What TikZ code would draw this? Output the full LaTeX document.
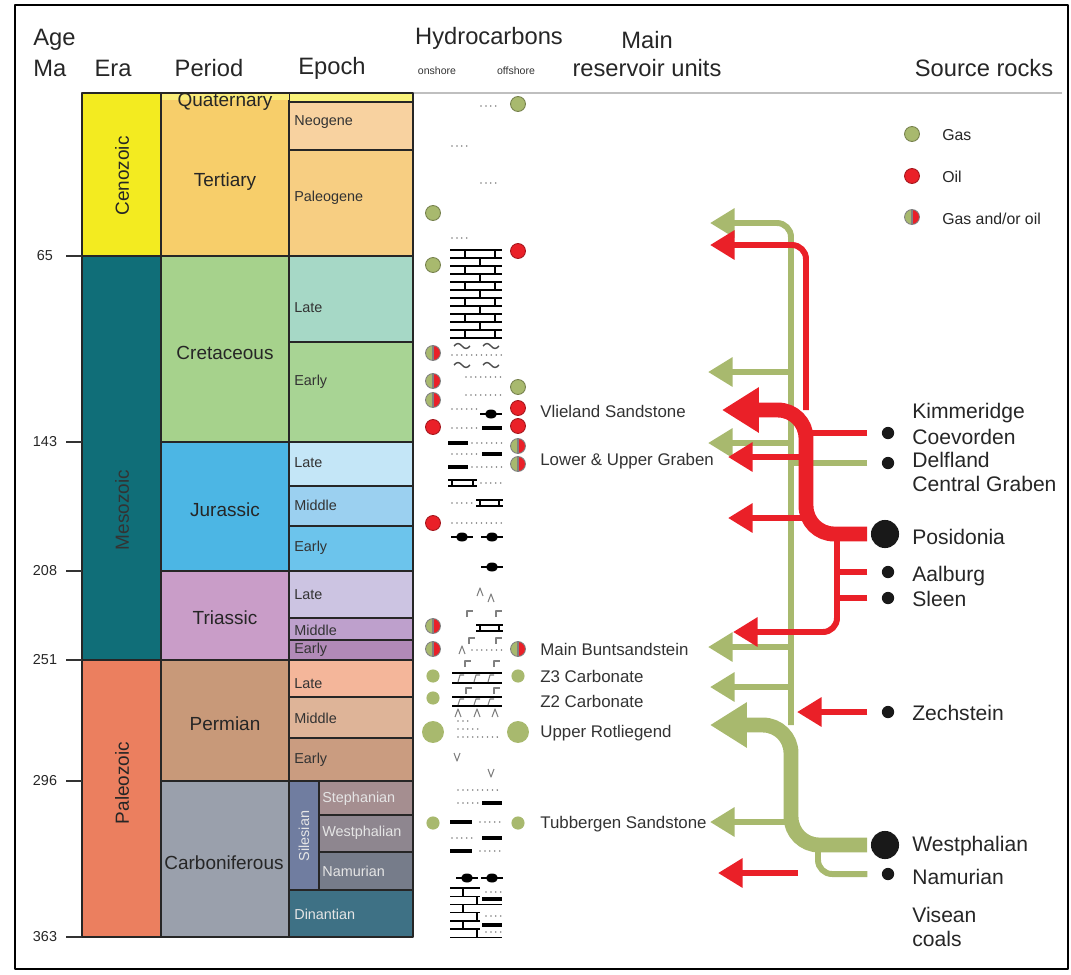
\documentclass[tikz,border=0pt]{standalone}
\usepackage{fontspec}
\setmainfont{Liberation Sans}
\usetikzlibrary{arrows.meta}

\definecolor{cGas}{RGB}{168,185,110}
\definecolor{cOil}{RGB}{234,32,40}
\definecolor{cCenoz}{RGB}{243,235,32}
\definecolor{cMesoz}{RGB}{16,110,120}
\definecolor{cPaleoz}{RGB}{235,127,95}
\definecolor{cTert}{RGB}{247,206,106}
\definecolor{cQuatP}{RGB}{249,236,120}
\definecolor{cQuat}{RGB}{249,242,122}
\definecolor{cNeog}{RGB}{248,210,160}
\definecolor{cPaleog}{RGB}{247,206,130}
\definecolor{cCret}{RGB}{166,210,140}
\definecolor{cLCret}{RGB}{166,216,198}
\definecolor{cECret}{RGB}{168,212,148}
\definecolor{cJura}{RGB}{76,182,228}
\definecolor{cLJura}{RGB}{196,230,247}
\definecolor{cMJura}{RGB}{155,208,240}
\definecolor{cEJura}{RGB}{108,196,236}
\definecolor{cTrias}{RGB}{201,157,200}
\definecolor{cLTrias}{RGB}{204,196,226}
\definecolor{cMTrias}{RGB}{190,160,204}
\definecolor{cETrias}{RGB}{178,138,184}
\definecolor{cPerm}{RGB}{200,153,121}
\definecolor{cLPerm}{RGB}{244,182,154}
\definecolor{cMPerm}{RGB}{222,180,152}
\definecolor{cEPerm}{RGB}{202,156,128}
\definecolor{cCarb}{RGB}{154,160,172}
\definecolor{cSiles}{RGB}{112,125,160}
\definecolor{cSteph}{RGB}{165,142,144}
\definecolor{cWestph}{RGB}{142,134,143}
\definecolor{cNamur}{RGB}{118,124,138}
\definecolor{cDinant}{RGB}{62,113,133}

\newcommand{\lithdots}[3]{\draw[gray,line width=1pt,line cap=round,dash pattern=on 0pt off 2.8pt] (#1,#3) -- (#2,#3);}
\newcommand{\lithbar}[3]{\draw[line width=2.4pt] (#1,#3) -- (#2,#3);}
\newcommand{\lithlens}[2]{\fill (#1,#2) ellipse (6 and 4.5); \draw[line width=1.6pt] ({#1-11},#2) -- ({#1+11},#2);}
\newcommand{\lithladder}[3]{\draw[line width=0.8pt] (#1,{#3-3}) -- (#2,{#3-3}) (#1,{#3+3}) -- (#2,{#3+3})
  ({#1+4},{#3-3}) -- ({#1+4},{#3+3}) ({#2-4},{#3-3}) -- ({#2-4},{#3+3});}
\newcommand{\lithcaret}[2]{\draw[gray,line width=0.6pt] ({#1-3},{#2+4}) -- (#1,{#2-4}) -- ({#1+3},{#2+4});}
\newcommand{\lithcorner}[2]{\draw[gray,line width=0.6pt] (#1,{#2+4}) -- (#1,{#2-2}) -- ({#1+6},{#2-2});}
\newcommand{\lithvee}[2]{\draw[gray,line width=0.6pt] ({#1-3},{#2-4}) -- (#1,{#2+4}) -- ({#1+3},{#2-4});}
\newcommand{\lithwave}[2]{\draw[black!70,line width=0.8pt] ({#1-8},#2) sin ({#1-4},{#2-2.5}) cos (#1,#2) sin ({#1+4},{#2+2.5}) cos ({#1+8},#2);}
\newcommand{\lithsalt}[2]{\draw[line width=0.8pt] (452,#1) -- (502,#1) (452,#2) -- (502,#2);
  \foreach \m in {458,474,488} \draw[gray,line width=0.6pt] (\m,{#2-1}) -- ({\m+2},{#1+2}) -- ({\m+6},{#1+2});}

\begin{document}
\begin{tikzpicture}[x=0.02cm,y=-0.02cm,line join=round,
  cell/.style={draw=black!85,line width=0.6pt},
  hdr/.style={font=\fontsize{13.5}{15}\selectfont,text=black!85,inner sep=0pt},
  sub/.style={font=\fontsize{6}{7}\selectfont,text=black!80,inner sep=0pt},
  per/.style={font=\fontsize{10.8}{12}\selectfont,text=black!85,inner sep=0pt},
  epo/.style={font=\fontsize{8.2}{9}\selectfont,text=black!80,inner sep=0pt,anchor=west},
  age/.style={font=\fontsize{8.2}{9}\selectfont,text=black!85,inner sep=0pt},
  res/.style={font=\fontsize{9.6}{11}\selectfont,text=black!80,inner sep=0pt,anchor=west},
  src/.style={font=\fontsize{12}{13}\selectfont,text=black!85,inner sep=0pt,anchor=west},
  leg/.style={font=\fontsize{9}{10}\selectfont,text=black!85,inner sep=0pt,anchor=west},
  gas/.style={circle,inner sep=0pt,minimum size=8.5pt,fill=cGas,draw=cGas!70!black,line width=0.5pt},
  oil/.style={circle,inner sep=0pt,minimum size=8.5pt,fill=cOil,draw=cOil!70!black,line width=0.5pt},
  gassm/.style={circle,inner sep=0pt,minimum size=7.5pt,fill=cGas},
  gasbig/.style={circle,inner sep=0pt,minimum size=12.5pt,fill=cGas},
  mix/.style={circle,inner sep=0pt,minimum size=8.5pt,draw=black!50,line width=0.5pt,
    path picture={\fill[cGas] (path picture bounding box.south west) rectangle (path picture bounding box.north);
      \fill[cOil] (path picture bounding box.south) rectangle (path picture bounding box.north east);
      \draw[line width=0.8pt] (path picture bounding box.south) -- (path picture bounding box.north);}},
  srcdot/.style={circle,inner sep=0pt,minimum size=7pt,fill=black!90},
  srcbig/.style={circle,inner sep=0pt,minimum size=16pt,fill=black!90},
  gline/.style={draw=cGas,line width=3.4pt},
  rline/.style={draw=cOil,line width=3.4pt},
  gflow/.style={gline,-{Triangle[length=14pt,width=16pt]}},
  rflow/.style={rline,-{Triangle[length=14pt,width=16pt]}},
  gthick/.style={draw=cGas,line width=8.5pt,-{Triangle[length=21pt,width=24.5pt]}},
  rthick/.style={draw=cOil,line width=8.5pt,-{Triangle[length=21pt,width=24.5pt]}}]
  \useasboundingbox (0,0) rectangle (1071,974);
  \draw[line width=1.2pt] (15,5) rectangle (1068,969);
  \draw[black!25,line width=0.6pt] (413,93) -- (1062,93);

  \node[hdr,anchor=west] (hage) at (33,40) {Age};
  \node[hdr,anchor=west] (hma) at (33,68) {Ma};
  \node[hdr] (hera) at (113,68) {Era};
  \node[hdr] (hper) at (209,68) {Period};
  \node[hdr] (hepo) at (332,68) {Epoch};
  \node[hdr] (hhc) at (489,38) {Hydrocarbons};
  \node[sub] (hon) at (437,71) {onshore};
  \node[sub] (hoff) at (516,71) {offshore};
  \node[hdr] (hmain) at (647,40) {Main};
  \node[hdr] (hres) at (647,68) {reservoir units};
  \node[hdr] (hsrc) at (984,68) {Source rocks};

  \foreach \xa/\ya/\xb/\yb/\c in {82/93/161/256/cCenoz,82/256/161/660/cMesoz,82/660/161/937/cPaleoz,
    161/93/289/256/cTert,161/256/289/442/cCret,161/442/289/571/cJura,161/571/289/660/cTrias,
    161/660/289/781/cPerm,161/781/289/937/cCarb,
    289/93/413/102/cQuat,289/102/413/150/cNeog,289/150/413/256/cPaleog,289/256/413/342/cLCret,
    289/342/413/442/cECret,289/442/413/486/cLJura,289/486/413/526/cMJura,289/526/413/571/cEJura,
    289/571/413/618/cLTrias,289/618/413/640/cMTrias,289/640/413/660/cETrias,289/660/413/697/cLPerm,
    289/697/413/738/cMPerm,289/738/413/781/cEPerm,289/781/319/890/cSiles,319/781/413/815/cSteph,
    319/815/413/852/cWestph,319/852/413/890/cNamur,289/890/413/937/cDinant}
    \filldraw[cell,fill=\c] (\xa,\ya) rectangle (\xb,\yb);
  \fill[cQuatP] (161.5,93.5) rectangle (288.5,100);

  \foreach \y/\a in {256/65,442/143,571/208,660/251,781/296,937/363} {
    \draw[black!80,line width=0.6pt] (66,\y) -- (82,\y);
    \node[age] (age\a) at (45,\y) {\a};
  }

  \node[per,rotate=90] (cenoz) at (122,176) {Cenozoic};
  \node[per,rotate=90,text=black!80] (mesoz) at (122,510) {Mesozoic};
  \node[per,rotate=90] (paleoz) at (122,783) {Paleozoic};
  \node[per] (quat) at (225,102) {Quaternary};
  \node[per] (tert) at (225,182) {Tertiary};
  \node[per] (cret) at (225,353) {Cretaceous};
  \node[per] (jura) at (225,510) {Jurassic};
  \node[per] (trias) at (225,618) {Triassic};
  \node[per] (perm) at (225,724) {Permian};
  \node[per] (carb) at (224,863) {Carboniferous};

  \foreach \y/\t [count=\i] in {122/Neogene,198/Paleogene,308/Late,382/Early,463/Late,505/Middle,548/Early,
    595/Late,630/Middle,650/Early,684/Late,718/Middle,760/Early}
    \node[epo] (epo\i) at (294,\y) {\t};
  \node[epo,text=black!10] (steph) at (322,799) {Stephanian};
  \node[epo,text=black!10] (westph) at (322,833) {Westphalian};
  \node[epo,text=black!10] (namur) at (322,871) {Namurian};
  \node[epo,text=black!10] (dinant) at (294,914) {Dinantian};
  \node[epo,anchor=center,rotate=90,text=black!10] (siles) at (304,836) {Silesian};

  \lithdots{481}{497}{106}
  \lithdots{452}{468}{146}
  \lithdots{481}{497}{183}
  \lithdots{452}{468}{238}
  \foreach \i in {0,...,11}
    \draw[line width=0.8pt] (450,{250+8*\i}) -- (502,{250+8*\i});
  \foreach \i in {0,2,...,10}
    \draw[line width=0.8pt] (465,{250+8*\i}) -- (465,{258+8*\i}) (495,{250+8*\i}) -- (495,{258+8*\i});
  \foreach \i in {1,3,...,9}
    \draw[line width=0.8pt] (480,{250+8*\i}) -- (480,{258+8*\i});
  \lithwave{462}{346} \lithwave{491}{346}
  \lithdots{452}{502}{355}
  \lithwave{462}{365} \lithwave{491}{365}
  \lithdots{466}{502}{377}
  \lithdots{466}{502}{395}
  \lithdots{452}{480}{409} \lithlens{491}{414}
  \lithdots{452}{478}{428} \lithbar{482}{502}{428}
  \lithbar{448}{468}{443} \lithdots{472}{502}{443}
  \lithdots{452}{478}{454} \lithbar{482}{502}{454}
  \lithbar{448}{468}{467} \lithdots{472}{502}{467}
  \lithladder{448}{477}{483} \lithdots{481}{502}{483}
  \lithdots{452}{474}{503} \lithladder{476}{503}{503}
  \lithdots{452}{502}{523}
  \lithlens{462}{537} \lithlens{492}{537}
  \lithlens{492}{567}
  \lithcaret{480}{592} \lithcaret{491}{598}
  \lithcorner{467}{613} \lithcorner{496}{613}
  \lithladder{476}{503}{628}
  \lithcorner{469}{640} \lithcorner{496}{640}
  \lithcaret{462}{650} \lithdots{472}{502}{650}
  \lithcorner{465}{663} \lithcorner{494}{663}
  \lithsalt{673}{683}
  \lithcorner{466}{690} \lithcorner{494}{690}
  \lithsalt{697}{706}
  \lithcaret{458}{713} \lithcaret{477}{713} \lithcaret{495}{713}
  \lithdots{458}{468}{721}
  \lithdots{458}{480}{729}
  \lithdots{458}{502}{737}
  \lithvee{457}{757} \lithvee{491}{773}
  \lithdots{458}{502}{790}
  \lithdots{458}{478}{803} \lithbar{482}{502}{803}
  \lithbar{450}{472}{822} \lithdots{480}{502}{822}
  \lithdots{452}{476}{838} \lithbar{482}{502}{838}
  \lithbar{450}{472}{851} \lithdots{480}{502}{851}
  \lithlens{467}{878} \lithlens{492}{878}
  \foreach \i in {0,...,6}
    \draw[line width=0.8pt] (450,{888+8.2*\i}) -- (480,{888+8.2*\i});
  \draw[line width=0.8pt] (480,904.4) -- (502,904.4) (480,937.2) -- (502,937.2);
  \foreach \i in {0,2,4}
    \draw[line width=0.8pt] (463,{888+8.2*\i}) -- (463,{896.2+8.2*\i});
  \foreach \i in {1,3,5}
    \draw[line width=0.8pt] (477,{888+8.2*\i}) -- (477,{896.2+8.2*\i});
  \lithdots{486}{502}{892} \lithbar{482}{502}{899}
  \lithdots{486}{502}{916} \lithbar{482}{502}{925} \lithdots{486}{502}{932}

  \foreach \x/\y [count=\i] in {518/104,433/213,433/265,518/387}
    \node[gas] (gas\i) at (\x,\y) {};
  \foreach \x/\y [count=\i] in {518/251,518/408,433/427,518/426,433/523}
    \node[oil] (oil\i) at (\x,\y) {};
  \foreach \x/\y [count=\i] in {433/353,433/381,433/400,518/446,518/464,433/626,433/649,518/649}
    \node[mix] (mix\i) at (\x,\y) {};
  \foreach \x/\y [count=\i] in {433/676,518/676,433/698,433/823,518/823}
    \node[gassm] (gsm\i) at (\x,\y) {};
  \node[gasbig] (gbig1) at (433,732) {};
  \node[gasbig] (gbig2) at (518,732) {};

  \node[res] (vlie) at (540,411) {Vlieland Sandstone};
  \node[res] (graben) at (540,461) {Lower \& Upper Graben};
  \node[res] (bunt) at (540,649) {Main Buntsandstein};
  \node[res] (zthree) at (540,676) {Z3 Carbonate};
  \node[res] (ztwo) at (540,701) {Z2 Carbonate};
  \node[res] (rotl) at (540,733) {Upper Rotliegend};
  \node[res] (tubb) at (540,824) {Tubbergen Sandstone};

  \node[gas] (lgas) at (912,134) {};
  \node[oil] (loil) at (912,176) {};
  \node[mix] (lmix) at (912,217) {};
  \node[leg] (tgas) at (942,135) {Gas};
  \node[leg] (toil) at (942,177) {Oil};
  \node[leg] (tmix) at (942,219) {Gas and/or oil};

  \node[srcdot] (kim) at (888,433) {};
  \node[srcdot] (delf) at (888,463) {};
  \node[srcbig] (posi) at (885,534) {};
  \node[srcdot] (aal) at (888,572) {};
  \node[srcdot] (sleen) at (888,598) {};
  \node[srcdot] (zech) at (888,712) {};
  \node[srcbig] (wph) at (885,845) {};
  \node[srcdot] (nam) at (888,874) {};
  \node[src] (tkim) at (912,413) {Kimmeridge};
  \node[src] (tcoe) at (912,437) {Coevorden};
  \node[src] (tdelf) at (912,460) {Delfland};
  \node[src] (tcg) at (912,484) {Central Graben};
  \node[src] (tposi) at (912,537) {Posidonia};
  \node[src] (taal) at (912,576) {Aalburg};
  \node[src] (tsleen) at (912,599) {Sleen};
  \node[src] (tzech) at (912,713) {Zechstein};
  \node[src] (twph) at (912,846) {Westphalian};
  \node[src] (tnam) at (912,877) {Namurian};
  \node[src] (tvis) at (912,915) {Visean};
  \node[src] (tcoal) at (912,939) {coals};

  \coordinate (gtrunk) at (791,0);
  \coordinate (rtrunk) at (806,0);
  \coordinate (rsub) at (837,0);
  \coordinate (nbend) at (818,0);
  \coordinate (rvis) at (798,873);
  \foreach \n/\x/\y in {gt1/710/223,gt2/708/372,gt3/708/443,gt4/708/647,gt5/710/687,gt6/710/725,gt7/710/822,
    rt1/710/245,rt2/722/410,rt3/728/457,rt4/728/518,rt5/733/632,rt6/797/712,rt7/718/873}
    \coordinate (\n) at (\x,\y);

  \draw[gflow,rounded corners=8pt] (gtrunk |- gt6) -- (gtrunk |- gt1) -- (gt1);
  \foreach \t in {gt2,gt3,gt4,gt5,gt7}
    \draw[gflow] (gtrunk |- \t) -- (\t);
  \draw[gline] ([xshift=-8pt]delf.west) -- (gtrunk |- delf);
  \draw[gline,rounded corners=8pt] ([xshift=-8pt]nam.west) -- (nbend |- nam) -- (nbend |- wph);
  \draw[gthick,rounded corners=16pt] ([xshift=-2pt]wph.west) -- (gtrunk |- wph) -- (gtrunk |- gt6) -- (gt6);

  \draw[rflow,rounded corners=8pt] (rtrunk |- rt2) -- (rtrunk |- rt1) -- (rt1);
  \draw[rline] ([xshift=-8pt]kim.west) -- (rtrunk |- kim);
  \draw[rflow] (rtrunk |- rt3) -- (rt3);
  \draw[rflow] (rtrunk |- rt4) -- (rt4);
  \draw[rthick,rounded corners=16pt] ([xshift=-2pt]posi.west) -- (rtrunk |- posi) -- (rtrunk |- rt2) -- (rt2);
  \draw[rline] ([xshift=-8pt]aal.west) -- (rsub |- aal);
  \draw[rline] ([xshift=-8pt]sleen.west) -- (rsub |- sleen);
  \draw[rflow,rounded corners=8pt] (rsub |- posi) -- (rsub |- rt5) -- (rt5);
  \draw[rflow] ([xshift=-8pt]zech.west) -- (rt6);
  \draw[rflow] (rvis) -- (rt7);
\end{tikzpicture}
\end{document}
